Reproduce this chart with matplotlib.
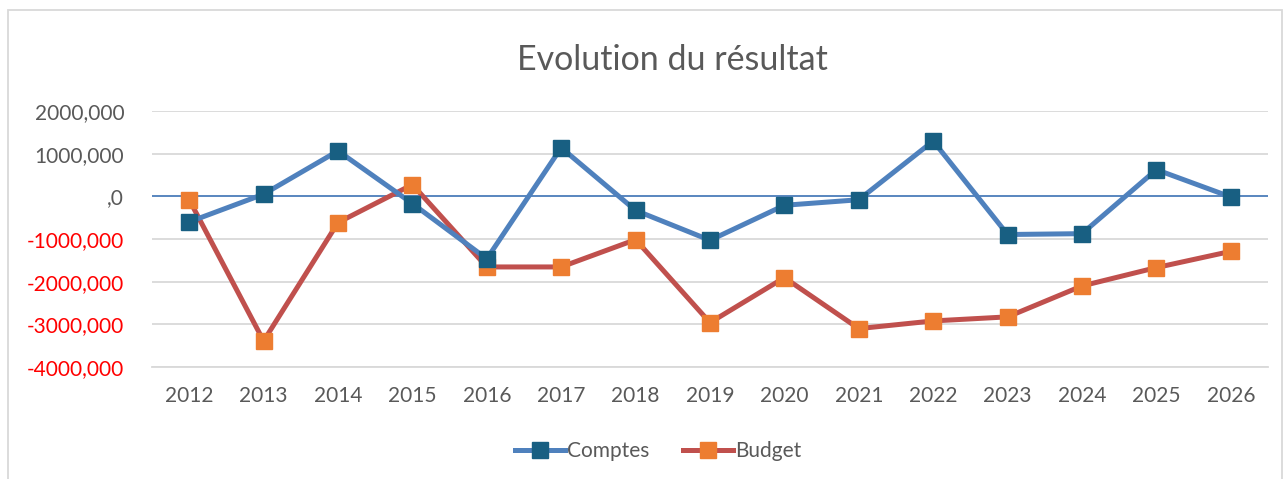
import matplotlib
matplotlib.use('Agg')
import matplotlib.pyplot as plt
from matplotlib.patches import Rectangle

plt.rcParams['font.family'] = ['Lato', 'DejaVu Sans']

years = ['2012', '2013', '2014', '2015', '2016', '2017', '2018', '2019',
         '2020', '2021', '2022', '2023', '2024', '2025', '2026']
comptes = [-600, 50, 1065, -170, -1465, 1140, -330, -1030,
           -210, -80, 1295, -895, -875, 625, -15]
budget = [-80, -3390, -615, 275, -1655, -1655, -1015, -2960,
          -1905, -3100, -2920, -2825, -2100, -1670, -1290]
yticks = [2000, 1000, 0, -1000, -2000, -3000, -4000]

grey = '#595959'

fig = plt.figure(figsize=(12.86, 4.79), dpi=100)
ax = fig.add_axes([0.1182, 0.2338, 0.8678, 0.5345])

x = range(len(years))
ax.plot(x, comptes, color='#4F81BD', lw=3.6, marker='s', ms=11,
        mfc='#185F82', mec='#185F82', label='Comptes', zorder=4)
ax.plot(x, budget, color='#C0504D', lw=3.6, marker='s', ms=11,
        mfc='#ED7D31', mec='#ED7D31', label='Budget', zorder=3)

ax.set_xlim(-0.5, len(years) - 0.5)
ax.set_ylim(-4000, 2000)
ax.set_xticks(list(x))
ax.set_xticklabels(years, fontsize=15, color=grey)
ax.set_yticks(yticks)
labels = []
for v in yticks:
    labels.append(',0' if v == 0 else f'{v},000')
ax.set_yticklabels(labels, fontsize=15)
for lab, v in zip(ax.get_yticklabels(), yticks):
    lab.set_color('#FF0000' if v < 0 else grey)

ax.tick_params(axis='x', length=0, pad=14)
ax.tick_params(axis='y', length=0, pad=20)
ax.grid(axis='y', color='#D9D9D9', lw=1.3)
ax.axhline(0, color='#4F81BD', lw=1.3, zorder=2)
ax.set_axisbelow(True)
for side in ['top', 'right', 'left']:
    ax.spines[side].set_visible(False)
ax.spines['bottom'].set_color('#D9D9D9')
ax.spines['bottom'].set_linewidth(1.3)

fig.text(0.523, 0.874, 'Evolution du résultat', ha='center', va='center',
         fontsize=24.5, color=grey)

fig.legend(loc='center', bbox_to_anchor=(0.512, 0.058), ncol=2, frameon=False,
           fontsize=15, labelcolor=grey, handlelength=2.4, handletextpad=0.1,
           columnspacing=1.6)

fig.patches.append(Rectangle((8 / 1286, -0.05), 1274 / 1286, 1 - 10 / 479 + 0.05,
                             transform=fig.transFigure, fill=False,
                             edgecolor='#D9D9D9', lw=1.3))

fig.savefig('out.png', dpi=100)
